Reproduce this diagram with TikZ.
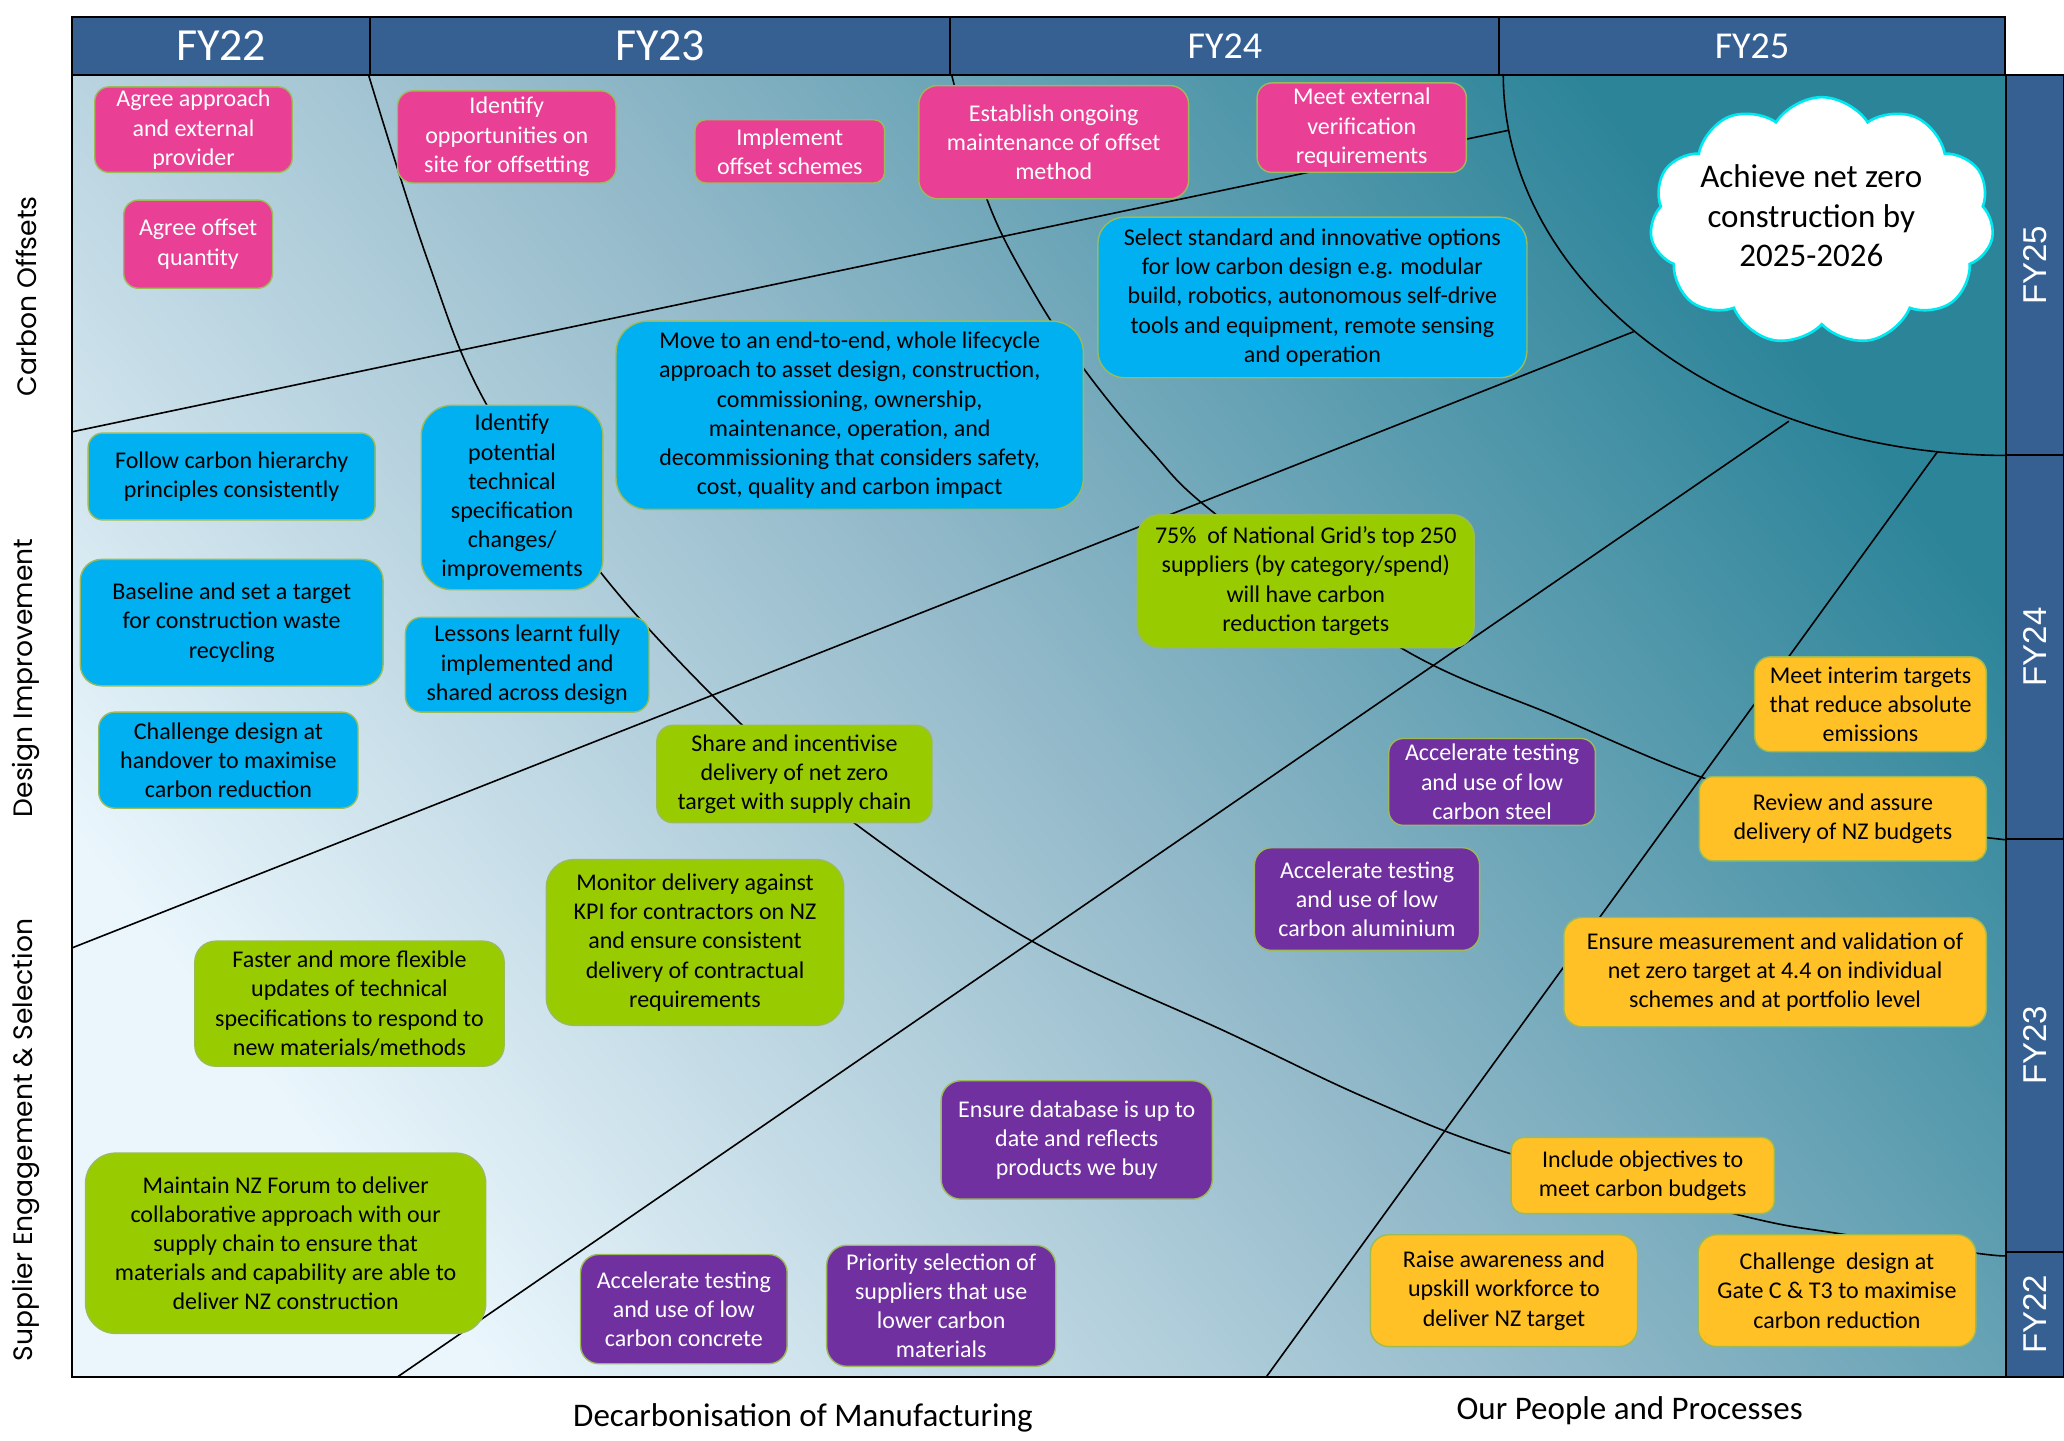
\documentclass[tikz,border=0pt]{standalone}
\usepackage{fontspec}
\setmainfont{Carlito}
\newfontfamily\gothfont{Poppins}
\newfontfamily\arialfont{Liberation Sans}
\usetikzlibrary{shapes.symbols}
\definecolor{hdr}{RGB}{55,96,146}
\definecolor{pinkc}{RGB}{233,64,150}
\definecolor{bluec}{RGB}{0,176,240}
\definecolor{greenc}{RGB}{153,204,0}
\definecolor{purplec}{RGB}{112,48,160}
\definecolor{orangec}{RGB}{255,193,37}
\definecolor{edgec}{RGB}{155,187,89}
\definecolor{bgA}{RGB}{234,246,252}
\definecolor{bgB}{RGB}{148,186,202}
\definecolor{bgC}{RGB}{44,132,153}
\definecolor{cloudc}{RGB}{0,232,240}
\tikzset{
  card/.style={draw=edgec, line width=0.7pt, inner sep=0pt, align=center,
    font=\fontsize{12}{14.6}\selectfont},
  pinkcard/.style={card, fill=pinkc, text=white},
  bluecard/.style={card, fill=bluec, text=black},
  greencard/.style={card, fill=greenc, text=black},
  purplecard/.style={card, fill=purplec, text=white},
  orangecard/.style={card, fill=orangec, text=black},
  guide/.style={black, line width=0.8pt},
  hdrcell/.style={draw=black, line width=1pt, fill=hdr, text=white, inner sep=0pt},
  sidecell/.style={draw=black, line width=1pt, fill=hdr, text=white, inner sep=0pt,
    rotate=90, font=\arialfont\fontsize{16.5}{18}\selectfont},
  axislabel/.style={rotate=90, font=\gothfont\fontsize{13.3}{15}\selectfont},
  bottomlabel/.style={font=\fontsize{16.5}{19}\selectfont},
}
% name, style, x1, y1, x2, y2, text
\newcommand\roadbox[7]{%
  \pgfmathsetmacro\cardw{(#5-#3)*0.6582}%
  \pgfmathsetmacro\cardh{(#6-#4)*0.6582}%
  \pgfmathsetmacro\cardr{0.1667*min(\cardw,\cardh)}%
  \node[#2, rounded corners=\cardr pt, minimum width=\cardw pt, minimum height=\cardh pt]
    (#1) at ({(#3+#5)/2},{(#4+#6)/2}) {#7};}
% name, x1, x2, font, text
\newcommand\headcell[5]{%
  \node[hdrcell, minimum width={(#3-#2)*0.6582pt}, minimum height={44*0.6582pt}, font=#4]
    (#1) at ({(#2+#3)/2},35) {#5};}
% name, y1, y2, text
\newcommand\barcell[4]{%
  \node[sidecell, minimum width={(#3-#2)*0.6582pt}, minimum height={44*0.6582pt}]
    (#1) at (1546,{(#2+#3)/2}) {#4};}
\begin{document}
\begin{tikzpicture}[x=0.6582pt, y=-0.6582pt]
\fill[white] (0,0) rectangle (1568,1094);
\useasboundingbox (0,0) rectangle (1568,1094);
% background area
\shade[bottom color=bgA, top color=bgC, middle color=bgB, shading angle=-52]
  (55,57) rectangle (1524,1046);
% guide lines
\draw[guide] plot[domain=0:90, samples=60] ({1524-382*cos(\x)},{57+289*sin(\x)});
\draw[guide] plot[smooth, tension=0.6] coordinates {(723,57) (750,152) (784,220) (824,281)
  (874,342) (924,391) (1064,492) (1184,545) (1294,591) (1400,621) (1524,638)};
\draw[guide] plot[smooth, tension=0.6] coordinates {(280,57) (325,198) (370,308) (458,437)
  (563,550) (650,626) (784,715) (934,785) (1040,835) (1146,876) (1321,923) (1396,937)
  (1501,952) (1524,954)};
\draw[guide] (55,328) -- (1146,99);
\draw[guide] (55,720) -- (1241,252);
\draw[guide] (302,1046) -- (1359,320);
\draw[guide] (962,1046) -- (1472,343);
% frame
\draw[black, line width=1.1pt] (55,57) -- (55,1046) -- (1524,1046);
% header
\headcell{h22}{55}{281}{\fontsize{23}{25}\selectfont}{FY22}
\headcell{h23}{281}{722}{\fontsize{23}{25}\selectfont}{FY23}
\headcell{h24}{722}{1139}{\fontsize{19}{21}\selectfont}{FY24}
\headcell{h25}{1139}{1523}{\fontsize{19}{21}\selectfont}{FY25}
% right bar
\barcell{r25}{57}{346}{FY25}
\barcell{r24}{346}{637}{FY24}
\barcell{r23}{637}{951}{FY23}
\barcell{r22}{951}{1046}{FY22}
% axis labels
\node[axislabel] (lco) at (20,225) {Carbon Offsets};
\node[axislabel] (ldi) at (20,515) {Design Improvement};
\node[axislabel] (lse) at (20,866) {Supplier Engagement \& Selection};
\node[bottomlabel] (ldm) at (610,1077) {Decarbonisation of Manufacturing};
\node[bottomlabel] (lpp) at (1238,1072) {Our People and Processes};
% cloud
\node[cloud, cloud puffs=11, cloud puff arc=115, aspect=1.4, draw=cloudc, line width=1.3pt,
  fill=white, minimum width=172pt, minimum height=124pt, inner sep=0pt] (cloud) at (1384,168) {};
\node[font=\fontsize{16.5}{19.7}\selectfont, align=center] (goal) at (1376,164)
  {Achieve net zero\\construction by\\2025-2026};
% pink
\roadbox{p1}{pinkcard}{72}{66}{222}{131}{Agree approach\\and external\\provider}
\roadbox{p2}{pinkcard}{94}{152}{207}{219}{Agree offset\\quantity}
\roadbox{p3}{pinkcard}{302}{69}{468}{139}{Identify\\opportunities on\\site for offsetting}
\roadbox{p4}{pinkcard}{528}{91}{672}{139}{Implement\\offset schemes}
\roadbox{p5}{pinkcard}{698}{65}{903}{151}{Establish ongoing\\maintenance of offset\\method}
\roadbox{p6}{pinkcard}{955}{63}{1114}{131}{Meet external\\verification\\requirements}
% blue
\roadbox{b1}{bluecard}{834}{165}{1160}{287}{Select standard and innovative options\\for low carbon design e.g. modular\\build, robotics, autonomous self-drive\\tools and equipment, remote sensing\\and operation}
\roadbox{b2}{bluecard}{468}{244}{823}{387}{Move to an end-to-end, whole lifecycle\\approach to asset design, construction,\\commissioning, ownership,\\maintenance, operation, and\\decommissioning that considers safety,\\cost, quality and carbon impact}
\roadbox{b3}{bluecard}{67}{329}{285}{395}{Follow carbon hierarchy\\principles consistently}
\roadbox{b4}{bluecard}{320}{308}{458}{448}{Identify\\potential\\technical\\specification\\changes/\\improvements}
\roadbox{b5}{bluecard}{61}{425}{291}{521}{Baseline and set a target\\for construction waste\\recycling}
\roadbox{b6}{bluecard}{308}{469}{493}{541}{Lessons learnt fully\\implemented and\\shared across design}
\roadbox{b7}{bluecard}{75}{541}{272}{614}{Challenge design at\\handover to maximise\\carbon reduction}
% green
\roadbox{g1}{greencard}{864}{391}{1120}{492}{75\%~ of National Grid's top 250\\suppliers (by category/spend)\\will have carbon\\reduction targets}
\roadbox{g2}{greencard}{499}{551}{708}{625}{Share and incentivise\\delivery of net zero\\target with supply chain}
\roadbox{g3}{greencard}{415}{653}{641}{779}{Monitor delivery against\\KPI for contractors on NZ\\and ensure consistent\\delivery of contractual\\requirements}
\roadbox{g4}{greencard}{148}{715}{383}{810}{Faster and more flexible\\updates of technical\\specifications to respond to\\new materials/methods}
\roadbox{g5}{greencard}{65}{876}{369}{1013}{Maintain NZ Forum to deliver\\collaborative approach with our\\supply chain to ensure that\\materials and capability are able to\\deliver NZ construction}
% purple
\roadbox{u1}{purplecard}{1055}{561}{1212}{627}{Accelerate testing\\and use of low\\carbon steel}
\roadbox{u2}{purplecard}{953}{644}{1124}{722}{Accelerate testing\\and use of low\\carbon aluminium}
\roadbox{u3}{purplecard}{715}{821}{921}{911}{Ensure database is up to\\date and reflects\\products we buy}
\roadbox{u4}{purplecard}{441}{953}{598}{1036}{Accelerate testing\\and use of low\\carbon concrete}
\roadbox{u5}{purplecard}{628}{946}{802}{1038}{Priority selection of\\suppliers that use\\lower carbon\\materials}
% orange
\roadbox{o1}{orangecard}{1333}{499}{1509}{571}{Meet interim targets\\that reduce absolute\\emissions}
\roadbox{o2}{orangecard}{1291}{590}{1509}{654}{Review and assure\\delivery of NZ budgets}
\roadbox{o3}{orangecard}{1188}{697}{1509}{780}{Ensure measurement and validation of\\net zero target at 4.4 on individual\\schemes and at portfolio level}
\roadbox{o4}{orangecard}{1148}{864}{1348}{922}{Include objectives to\\meet carbon budgets}
\roadbox{o5}{orangecard}{1041}{938}{1244}{1023}{Raise awareness and\\upskill workforce to\\deliver NZ target}
\roadbox{o6}{orangecard}{1290}{938}{1501}{1023}{Challenge~ design at\\Gate C \& T3 to maximise\\carbon reduction}
\end{tikzpicture}
\end{document}
